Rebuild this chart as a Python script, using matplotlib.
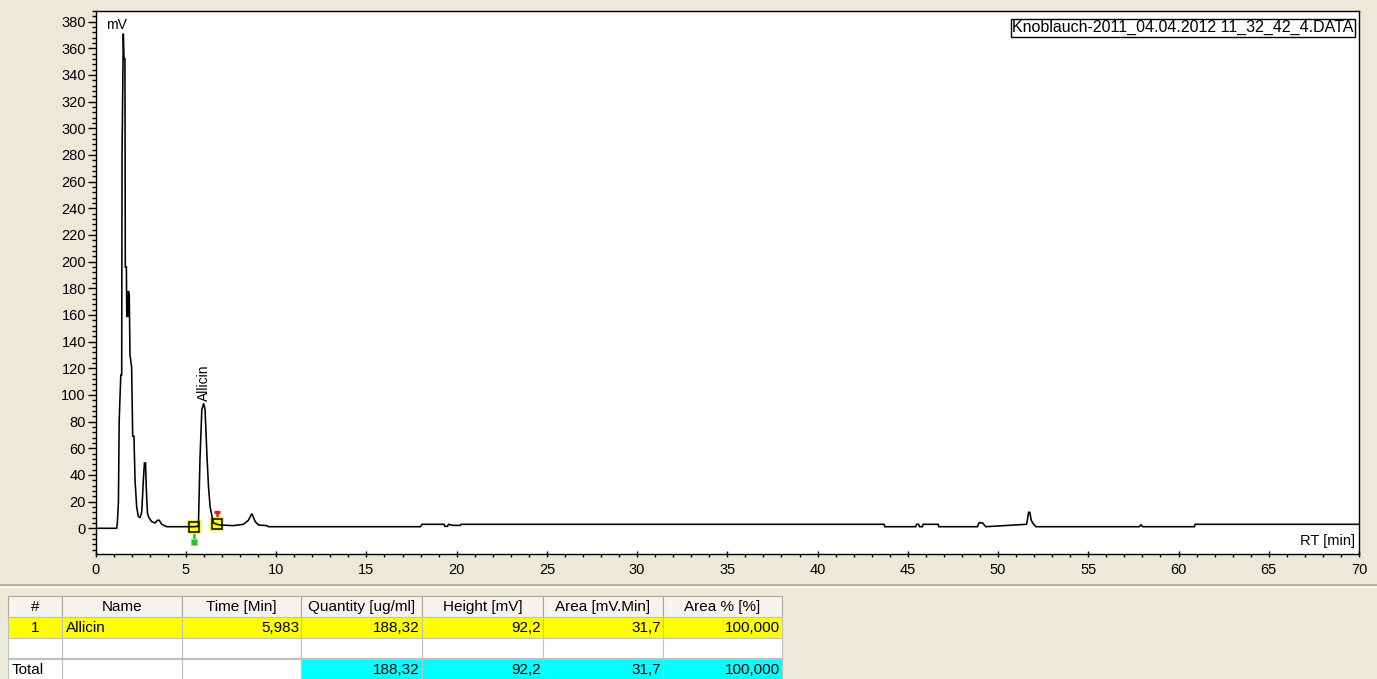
import matplotlib
matplotlib.use("Agg")
import matplotlib.pyplot as plt
from matplotlib.patches import Rectangle
from matplotlib.ticker import MultipleLocator

# ---------------------------------------------------------------- data
# Detected peak (integration results)
peak_no = [1]
peak_name = ["Allicin"]
peak_time = [5.983]        # min
peak_qty = [188.32]        # ug/ml
peak_height = [92.2]       # mV
peak_area = [31.7]         # mV.min
peak_area_pct = [100.000]  # %

table_columns = ["#", "Name", "Time [Min]", "Quantity [ug/ml]",
                 "Height [mV]", "Area [mV.Min]", "Area % [%]"]

# Chromatogram trace before / after the Allicin apex (min, mV)
rt_before = [0.0, 1.16, 1.20, 1.26, 1.30, 1.39, 1.44, 1.46, 1.53, 1.57,
             1.62, 1.64, 1.70, 1.72, 1.78, 1.81, 1.86, 1.90, 1.99, 2.05,
             2.12, 2.18, 2.27, 2.36, 2.46, 2.55, 2.60, 2.64, 2.70, 2.76,
             2.80, 2.87, 2.95, 3.10, 3.29, 3.42, 3.52, 3.66, 3.94, 5.05,
             5.47, 5.69, 5.78, 5.88]
mv_before = [0.0, 0.0, 4.0, 20.0, 80.0, 115.0, 115.0, 280.0, 371.0, 352.0,
             352.0, 196.0, 196.0, 159.0, 159.0, 178.0, 175.0, 130.0, 121.0, 69.0,
             69.0, 36.0, 16.0, 9.0, 8.0, 12.0, 25.0, 36.0, 49.0, 49.0,
             31.0, 11.0, 8.0, 5.0, 4.0, 6.0, 6.0, 3.0, 1.2, 1.2,
             1.2, 1.5, 53.0, 89.0]
rt_after = [6.06, 6.16, 6.25, 6.34, 6.52, 6.71, 6.89, 7.63, 8.19, 8.46,
            8.65, 8.84, 9.02, 9.48, 9.57, 18.0, 18.08, 19.3, 19.35, 19.5,
            19.55, 19.8, 20.2, 20.25, 43.68, 43.73, 45.44, 45.48, 45.60, 45.65,
            45.81, 45.85, 46.68, 46.72, 48.86, 48.95, 49.14, 49.32, 51.58, 51.64,
            51.69, 51.76, 51.84, 51.97, 52.10, 57.83, 57.92, 58.01, 60.88, 60.92,
            70.0]
mv_after = [89.0, 56.0, 31.0, 16.0, 4.0, 3.0, 2.5, 2.0, 3.0, 6.0,
            11.0, 5.0, 2.5, 2.0, 1.2, 1.2, 3.0, 3.0, 1.5, 1.5,
            3.0, 2.2, 2.2, 3.0, 3.0, 1.2, 1.2, 3.0, 3.0, 1.2,
            1.2, 3.0, 3.0, 1.2, 1.2, 4.2, 4.0, 1.2, 3.0, 7.5,
            12.0, 12.0, 6.0, 3.0, 1.2, 1.2, 2.6, 1.2, 1.2, 3.0,
            3.0]
allicin_baseline_mv = 1.5

# Integration window (start / end points on the trace)
window_start = (5.47, 1.2)
window_end = (6.71, 3.0)
start_flag_mv = -10.0
end_flag_mv = 12.5

rt_min = rt_before + peak_time + rt_after
signal_mv = mv_before + [allicin_baseline_mv + peak_height[0]] + mv_after
apex_mv = allicin_baseline_mv + peak_height[0]

x_major = list(range(0, 71, 5))
y_major = list(range(0, 381, 20))

# ---------------------------------------------------------------- figure
BG = "#ECE9D8"
FONT = ["Liberation Sans", "DejaVu Sans"]
plt.rcParams["font.family"] = FONT

W, H = 1377, 679
fig = plt.figure(figsize=(W / 100, H / 100), dpi=100, facecolor=BG)

# overlay in pixel coordinates for the window furniture and results table
ov = fig.add_axes([0, 0, 1, 1], zorder=0)
ov.set_xlim(0, W)
ov.set_ylim(H, 0)
ov.axis("off")

ax = fig.add_axes([95.7 / W, 1 - 553.5 / H, (1359 - 95.7) / W, (553.5 - 11) / H],
                  zorder=2)
ax.set_facecolor("white")
ax.set_xlim(0, 70)
ax.set_ylim(-18.9, 388)

ax.plot(rt_min, signal_mv, color="black", lw=1.15, zorder=4,
        solid_joinstyle="miter")

# integration window markers
ax.plot([window_start[0]] * 2, [window_start[1], start_flag_mv], color="#22CC22",
        lw=1.8, zorder=3)
ax.plot([window_start[0]], [start_flag_mv], marker="s", ms=4.0, color="#22CC22",
        mec="#9CCF9C", mew=0.7, zorder=3)
ax.plot([window_end[0]] * 2, [window_end[1], end_flag_mv], color="#E02020",
        lw=1.8, zorder=3)
ax.plot([window_end[0]], [end_flag_mv], marker="_", ms=5, mew=2.4,
        color="#E02020", zorder=3)
for px, py in (window_start, window_end):
    ax.plot([px], [py], marker="s", ms=10.5, mfc="#FFFF00", mec="#FFFF00",
            mew=0, zorder=3.5)
    ax.plot([px], [py], marker="s", ms=7.0, mfc="none", mec="black",
            mew=1.1, zorder=5)

ax.annotate(peak_name[0], xy=(peak_time[0], apex_mv), xytext=(0, 2),
            textcoords="offset points", rotation=90, ha="center", va="bottom",
            fontsize=10, zorder=6)

# axes styling
for side in ("left", "bottom", "top", "right"):
    ax.spines[side].set_color("black")
    ax.spines[side].set_linewidth(1.0)
ax.set_xticks(x_major)
ax.set_yticks(y_major)
ax.xaxis.set_minor_locator(MultipleLocator(1))
ax.yaxis.set_minor_locator(MultipleLocator(4))
ax.tick_params(axis="x", which="major", direction="inout", length=5,
               width=1, labelsize=10.5, pad=4)
ax.tick_params(axis="x", which="minor", direction="out", length=2.2, width=1)
ax.tick_params(axis="y", which="major", direction="out", length=6,
               width=1, labelsize=10.5, pad=1)
ax.tick_params(axis="y", which="minor", direction="out", length=3, width=1)

ax.text(0.0085, 0.988, "mV", transform=ax.transAxes, ha="left", va="top",
        fontsize=10)
ax.text(0.9965, 0.010, "RT [min]", transform=ax.transAxes, ha="right",
        va="bottom", fontsize=10.5)
ax.text(0.9955, 0.983, "Knoblauch-2011_04.04.2012 11_32_42_4.DATA",
        transform=ax.transAxes, ha="right", va="top", fontsize=11.5,
        bbox=dict(boxstyle="square,pad=0.08", fc="white", ec="black", lw=1.0),
        zorder=6)

# separator between chart and table
ov.plot([0, W], [585, 585], color="#ACA899", lw=1.2)
ov.plot([0, W], [587, 587], color="white", lw=1.0)

# ---------------------------------------------------------------- table
col_edges = [8, 62, 182, 301, 422, 543, 663, 782]
row_edges = [596, 617, 638, 657.5, 679]


def fmt(v, nd):
    return f"{v:.{nd}f}".replace(".", ",")


row1 = [str(peak_no[0]), peak_name[0], fmt(peak_time[0], 3), fmt(peak_qty[0], 2),
        fmt(peak_height[0], 1), fmt(peak_area[0], 1), fmt(peak_area_pct[0], 3)]
total_row = ["Total", "", "", fmt(sum(peak_qty), 2), fmt(sum(peak_height), 1),
             fmt(sum(peak_area), 1), fmt(sum(peak_area_pct), 3)]
aligns = ["center", "left", "right", "right", "right", "right", "right"]

TFS = 11
for c in range(7):
    x0, x1 = col_edges[c], col_edges[c + 1]
    # header
    ov.add_patch(Rectangle((x0, row_edges[0]), x1 - x0, row_edges[1] - row_edges[0],
                           fc="#F5F4EE", ec="#ACA899", lw=0.8))
    ov.text((x0 + x1) / 2, (row_edges[0] + row_edges[1]) / 2 + 0.5, table_columns[c],
            ha="center", va="center", fontsize=TFS)
    # data row
    ov.add_patch(Rectangle((x0, row_edges[1]), x1 - x0, row_edges[2] - row_edges[1],
                           fc="#FFFF00", ec="#C0C0C0", lw=0.8))
    # blank row
    ov.add_patch(Rectangle((x0, row_edges[2]), x1 - x0, row_edges[3] - row_edges[2],
                           fc="white", ec="#C0C0C0", lw=0.8))
    # totals row
    ov.add_patch(Rectangle((x0, row_edges[3] + 1.5), x1 - x0, row_edges[4] - row_edges[3],
                           fc="#00FFFF" if c >= 3 else "white", ec="#C0C0C0", lw=0.8))
    for txt, (ya, yb), al in ((row1[c], (row_edges[1], row_edges[2]), aligns[c]),
                              (total_row[c], (row_edges[3] + 1.5, row_edges[4]),
                               "left" if c == 0 else aligns[c])):
        if not txt:
            continue
        xt = {"center": (x0 + x1) / 2, "left": x0 + 4, "right": x1 - 2}[al]
        ov.text(xt, (ya + yb) / 2 + 0.5, txt, ha=al, va="center", fontsize=TFS)

fig.savefig("out.png", dpi=100, facecolor=BG)
